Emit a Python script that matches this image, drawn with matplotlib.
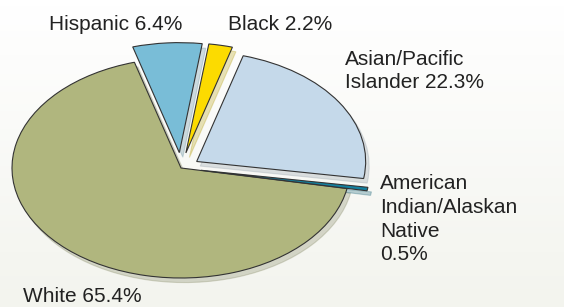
import numpy as np
import matplotlib.pyplot as plt
from matplotlib.colors import LinearSegmentedColormap

plt.rcParams['font.family'] = ['Liberation Sans', 'DejaVu Sans']

# data (counter-clockwise from the White slice)
groups = ['White', 'American Indian/Alaskan Native', 'Asian/Pacific Islander', 'Black', 'Hispanic']
shares = [65.4, 0.5, 22.3, 2.2, 6.4]
colors = ['#b0b67e', '#13809f', '#c5d9ea', '#fcdb00', '#79bdd7']
explode = [0.0, 0.12, 0.11, 0.14, 0.14]
label_texts = ['White 65.4%', 'American\nIndian/Alaskan\nNative\n0.5%',
               'Asian/Pacific\nIslander 22.3%', 'Black 2.2%', 'Hispanic 6.4%']
# label anchors (left, top) as figure fractions
label_pos = [(0.040, 0.064), (0.674, 0.432), (0.612, 0.838), (0.404, 0.951), (0.086, 0.951)]

W, H = 564, 307
fig = plt.figure(figsize=(W / 100, H / 100), dpi=100)

# soft background
bg = fig.add_axes([0, 0, 1, 1])
grad = np.linspace(1.0, 0.0, 50).reshape(-1, 1)
bg.imshow(grad, aspect='auto', extent=[0, 1, 0, 1],
          cmap=LinearSegmentedColormap.from_list('bg', ['#f3f4ee', '#ffffff']))
bg.set_axis_off()

ax = fig.add_axes([0, 0, 1, 1])
ax.patch.set_alpha(0)
wedges, _ = ax.pie(shares, colors=colors, explode=explode, startangle=106,
                   counterclock=True, normalize=True,
                   wedgeprops=dict(edgecolor='#333333', linewidth=0.8),
                   shadow=dict(ox=0.015, oy=-0.03, shade=0.3, alpha=0.28))
ax.set_aspect('auto')
# circle -> ellipse: centre at (181,168) px, semi-axes 169 x 110 px
cx, cy, a, b = 181, 168, 169, 110
ax.set_xlim(-cx / a, (W - cx) / a)
ax.set_ylim((cy - H) / b, cy / b)
ax.set_axis_off()

for txt, (x, y) in zip(label_texts, label_pos):
    fig.text(x, y, txt, ha='left', va='top', fontsize=15, color='#222222', linespacing=1.31)

fig.savefig('out.png', dpi=100)
